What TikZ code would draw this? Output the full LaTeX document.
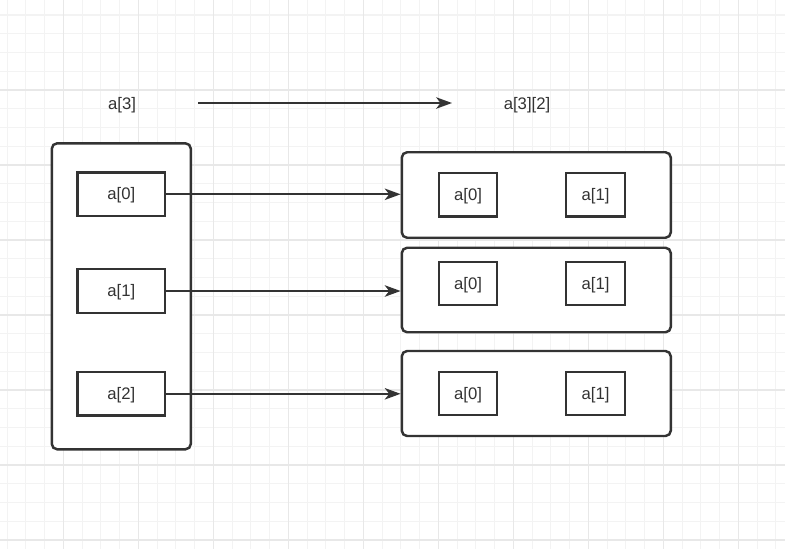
\documentclass[tikz,border=0pt]{standalone}
\usepackage{fontspec}
\setmainfont{Liberation Sans}
\usetikzlibrary{arrows.meta}

\definecolor{ink}{HTML}{333333}
\definecolor{gridminor}{HTML}{F3F3F3}
\definecolor{gridmajor}{HTML}{E8E8E8}

\begin{document}
\begin{tikzpicture}[x=0.02cm, y=-0.02cm, >={Stealth[length=9pt, width=6.5pt, inset=2.5pt]},
    every node/.style={font=\fontsize{9.5}{11}\selectfont, text=ink, text depth=0.05em},
    frame/.style={draw=ink, line width=1.4pt, rounded corners=3pt, fill=white},
    cell/.style={draw=ink, line width=1.4pt, fill=white, minimum height=0.87cm},
    link/.style={draw=ink, line width=1.2pt, ->}]
        \useasboundingbox (0,0) rectangle (785,549);

        % Grid
        \fill[white] (0,0) rectangle (785,549);
        \foreach \k in {0,...,41}
            \draw[gridminor, line width=0.6pt] (7.05+18.75*\k,0) -- (7.05+18.75*\k,549);
        \foreach \k in {0,...,28}
            \draw[gridminor, line width=0.6pt] (0,15+18.75*\k) -- (785,15+18.75*\k);
        \foreach \x in {63.3,138.3,...,785}
            \draw[gridmajor, line width=0.6pt] (\x,0) -- (\x,549);
        \foreach \y in {90,165,...,549}
            \draw[gridmajor, line width=0.6pt] (0,\y) -- (785,\y);

        % Nodes
        \node (one)  at (122,104) {a[3]};
        \node (two)  at (527,104) {a[3][2]};
        \coordinate (from) at (198,103);
        \coordinate (to)   at (452,103);

        \node [frame, minimum width=2.78cm, minimum height=6.12cm] (left) at (121.3,296.3) {};
        \node [cell, minimum width=1.75cm] (l0) at (121.3,194.3) {a[0]};
        \node [cell, minimum width=1.75cm] (l1) at (121.3,291)   {a[1]};
        \node [cell, minimum width=1.75cm] (l2) at (121.3,393.8) {a[2]};

        \node [frame, minimum width=5.38cm, minimum height=1.71cm] (r0) at (536.3,195)   {};
        \node [frame, minimum width=5.38cm, minimum height=1.69cm] (r1) at (536.3,290)   {};
        \node [frame, minimum width=5.38cm, minimum height=1.70cm] (r2) at (536.3,393.5) {};

        \node [cell, minimum width=1.16cm] (r00) at (468,194.7)   {a[0]};
        \node [cell, minimum width=1.18cm] (r01) at (595.5,194.7) {a[1]};
        \node [cell, minimum width=1.16cm] (r10) at (468,283.5)   {a[0]};
        \node [cell, minimum width=1.18cm] (r11) at (595.5,283.5) {a[1]};
        \node [cell, minimum width=1.16cm] (r20) at (468,393.5)   {a[0]};
        \node [cell, minimum width=1.18cm] (r21) at (595.5,393.5) {a[1]};

        % Edges
        \draw[link] (from) -- (to);
        \draw[link] (l0.east) -- (l0.east -| r0.west);
        \draw[link] (l1.east) -- (l1.east -| r1.west);
        \draw[link] (l2.east) -- (l2.east -| r2.west);

\end{tikzpicture}
\end{document}
